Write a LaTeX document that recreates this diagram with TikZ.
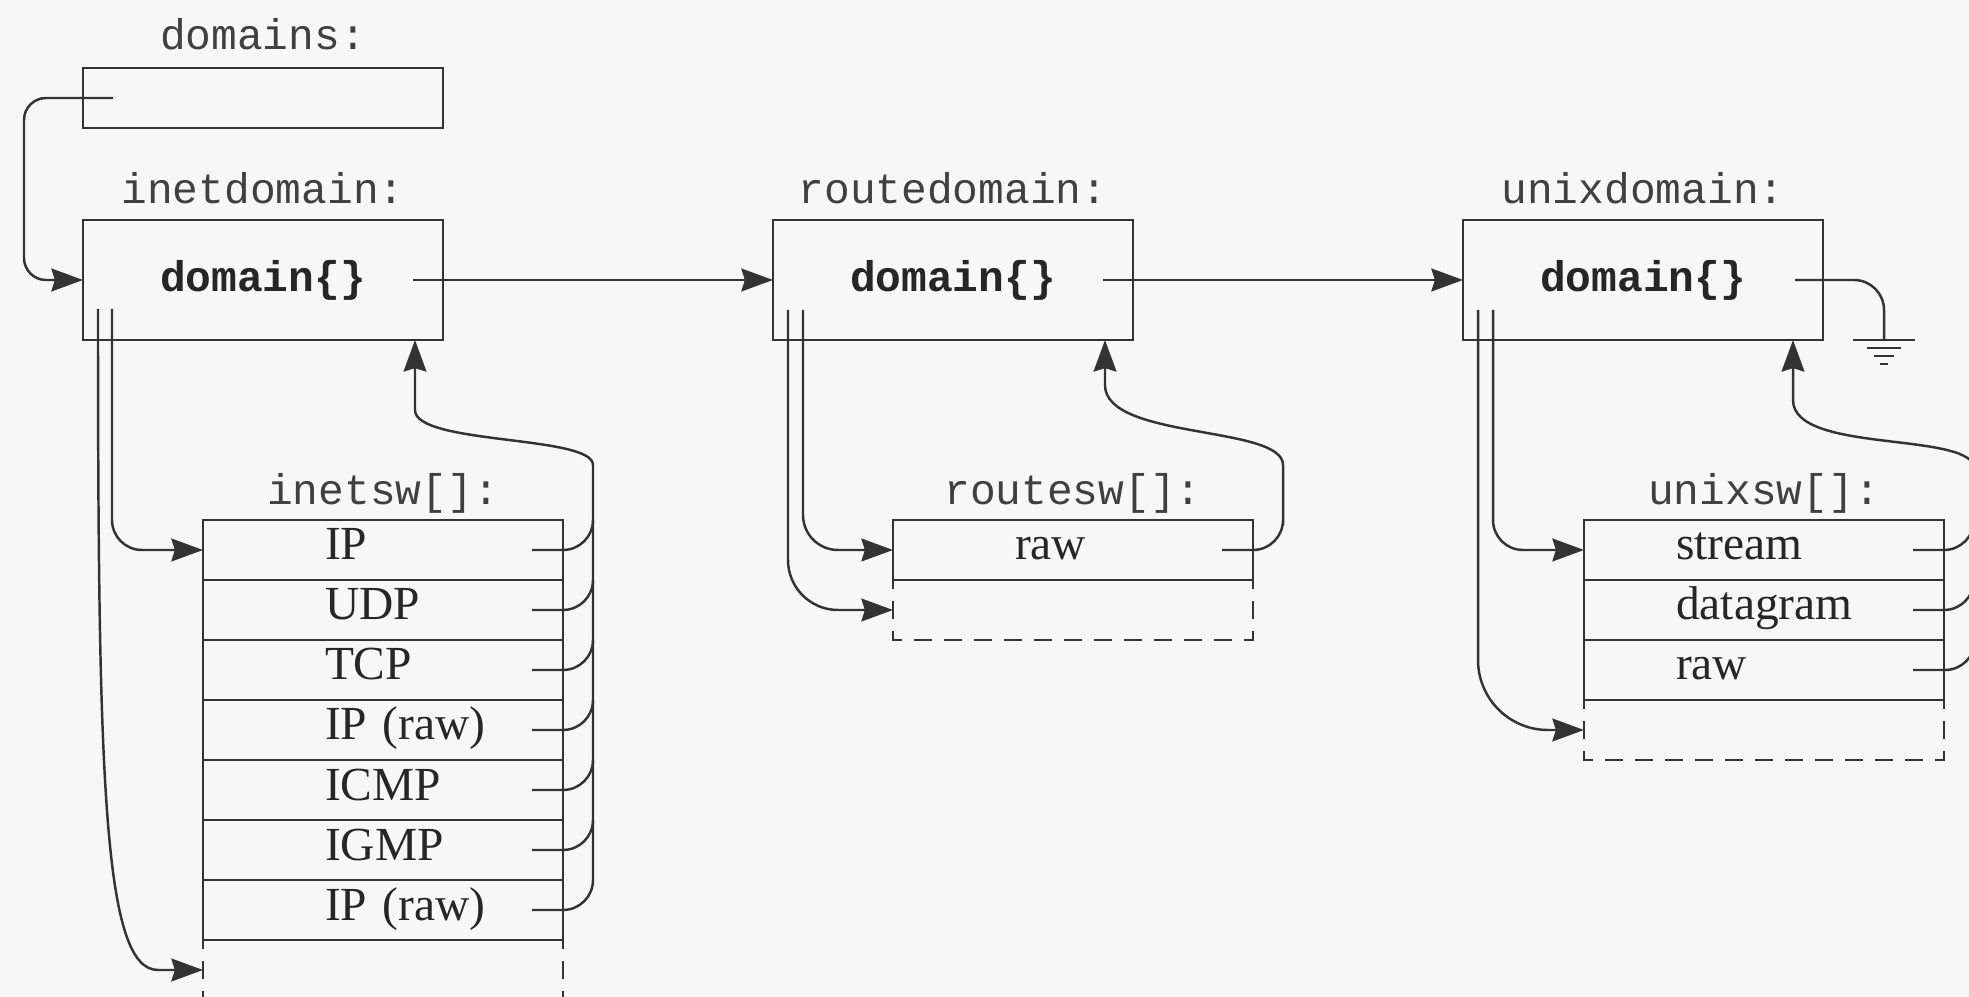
\documentclass[tikz,border=0pt]{standalone}
\usepackage{fontspec}
\setmainfont{Liberation Serif}
\setmonofont{Liberation Mono}
\usetikzlibrary{arrows.meta,positioning}
\newcommand{\lblmono}{\ttfamily\fontsize{12.2}{14}\selectfont}
\newcommand{\rowserif}{\rmfamily\fontsize{13.5}{16}\selectfont}

\begin{document}
\begin{tikzpicture}[
  >={Stealth[length=9pt,width=6.5pt,inset=1pt]},
  ink/.style={draw=black!80},
  ptrbox/.style={
    ink,
    line width=0.8pt,
    minimum width=3.6cm,
    minimum height=0.6cm,
    inner sep=0pt,
    outer sep=0pt
  },
  dombox/.style={ptrbox, minimum height=1.2cm, font=\lblmono\bfseries, text=black!85},
  lbl/.style={font=\lblmono, text=black!75, anchor=base, inner sep=0pt},
  swrow/.style={
    ink,
    line width=0.8pt,
    text width=3.6cm,
    minimum height=0.6cm,
    text height=0.31cm,
    text depth=0.11cm,
    inner sep=0pt,
    outer sep=0pt,
    align=left,
    font=\rowserif,
    text=black!85,
    execute at begin node={\hspace*{#1}}
  },
  swrow/.default=1.22cm,
  slot/.style={minimum width=3.6cm, minimum height=0.6cm, inner sep=0pt, outer sep=0pt},
  slotedge/.style={ink, line width=0.8pt, dash pattern=on 0.18cm off 0.12cm, dash phase=0.09cm},
  wire/.style={ink, line width=0.7pt},
  arr/.style={wire, ->},
]

\path[use as bounding box, clip] (0,0) rectangle (19.69,-9.97);
\fill[black!3] (0,0) rectangle (19.69,-9.97);

% Domain list.
\node[ptrbox] (domains) at (2.63,-0.98) {};
\node[dombox] (inetdomain) at (2.63,-2.80) {domain\{\}};
\node[dombox] (routedomain) at (9.53,-2.80) {domain\{\}};
\node[dombox] (unixdomain) at (16.43,-2.80) {domain\{\}};

\node[lbl] (domainslbl) at ([yshift=0.18cm]domains.north) {domains:};
\node[lbl] (inetlbl) at ([yshift=0.16cm]inetdomain.north) {inetdomain:};
\node[lbl] (routelbl) at ([yshift=0.16cm]routedomain.north) {routedomain:};
\node[lbl] (unixlbl) at ([yshift=0.16cm]unixdomain.north) {unixdomain:};

% Protocol switch tables.
\node[swrow] (inetsw1) at (3.83,-5.50) {IP};
\node[swrow, below=0pt of inetsw1] (inetsw2) {UDP};
\node[swrow, below=0pt of inetsw2] (inetsw3) {TCP};
\node[swrow, below=0pt of inetsw3] (inetsw4) {IP (raw)};
\node[swrow, below=0pt of inetsw4] (inetsw5) {ICMP};
\node[swrow, below=0pt of inetsw5] (inetsw6) {IGMP};
\node[swrow, below=0pt of inetsw6] (inetsw7) {IP (raw)};
\node[slot, below=0pt of inetsw7] (inetslot) {};

\node[swrow] (routesw1) at (10.73,-5.50) {raw};
\node[slot, below=0pt of routesw1] (routeslot) {};

\node[swrow=0.92cm] (unixsw1) at (17.64,-5.50) {stream};
\node[swrow=0.92cm, below=0pt of unixsw1] (unixsw2) {datagram};
\node[swrow=0.92cm, below=0pt of unixsw2] (unixsw3) {raw};
\node[slot, below=0pt of unixsw3] (unixslot) {};

\node[lbl] (inetswlbl) at ([yshift=0.15cm]inetsw1.north) {inetsw[]:};
\node[lbl] (routeswlbl) at ([yshift=0.15cm]routesw1.north) {routesw[]:};
\node[lbl] (unixswlbl) at ([yshift=0.15cm]unixsw1.north) {unixsw[]:};

\draw[slotedge] (inetslot.north west) -- (inetslot.south west) -- (inetslot.south east) -- (inetslot.north east);
\draw[slotedge] (routeslot.north west) -- (routeslot.south west) -- (routeslot.south east) -- (routeslot.north east);
\draw[slotedge] (unixslot.north west) -- (unixslot.south west) -- (unixslot.south east) -- (unixslot.north east);

% Chain of domains.
\draw[arr, rounded corners=0.22cm] ([xshift=0.3cm]domains.west) -| ([xshift=-0.59cm]inetdomain.west) -- (inetdomain.west);
\draw[arr] ([xshift=-0.3cm]inetdomain.east) -- (routedomain.west);
\draw[arr] ([xshift=-0.3cm]routedomain.east) -- (unixdomain.west);

\coordinate (gnd) at (18.84,-3.40);
\draw[wire, rounded corners=0.3cm] ([xshift=-0.28cm]unixdomain.east) -| (gnd);
\draw[wire] ([xshift=-0.31cm]gnd) -- ([xshift=0.31cm]gnd);
\draw[wire] ([xshift=-0.17cm,yshift=-0.08cm]gnd) -- ([xshift=0.17cm,yshift=-0.08cm]gnd);
\draw[wire] ([xshift=-0.10cm,yshift=-0.16cm]gnd) -- ([xshift=0.10cm,yshift=-0.16cm]gnd);
\draw[wire] ([xshift=-0.04cm,yshift=-0.24cm]gnd) -- ([xshift=0.04cm,yshift=-0.24cm]gnd);

% Domain to first and end of its switch table.
\draw[arr, rounded corners=0.3cm] ([xshift=0.29cm,yshift=0.31cm]inetdomain.south west) |- (inetsw1.west);
\draw[arr] ([xshift=0.15cm,yshift=0.31cm]inetdomain.south west)
  .. controls +(0,-4.7) and +(-0.55,0) .. ([xshift=-0.45cm]inetslot.west) -- (inetslot.west);

\draw[arr, rounded corners=0.35cm] ([xshift=0.30cm,yshift=0.30cm]routedomain.south west) |- (routesw1.west);
\draw[arr, rounded corners=0.5cm] ([xshift=0.15cm,yshift=0.30cm]routedomain.south west) |- (routeslot.west);

\draw[arr, rounded corners=0.3cm] ([xshift=0.30cm,yshift=0.30cm]unixdomain.south west) |- (unixsw1.west);
\draw[arr, rounded corners=0.7cm] ([xshift=0.15cm,yshift=0.30cm]unixdomain.south west) |- (unixslot.west);

% Back pointers from each entry to its domain.
\coordinate (inetbus) at (5.93,-4.95);
\draw[wire, rounded corners=0.3cm] ([xshift=-0.31cm]inetsw1.east) -| ([xshift=0.3cm,yshift=0.3cm]inetsw1.east);
\draw[wire, rounded corners=0.3cm] ([xshift=-0.31cm]inetsw2.east) -| ([xshift=0.3cm,yshift=0.3cm]inetsw2.east);
\draw[wire, rounded corners=0.3cm] ([xshift=-0.31cm]inetsw3.east) -| ([xshift=0.3cm,yshift=0.3cm]inetsw3.east);
\draw[wire, rounded corners=0.3cm] ([xshift=-0.31cm]inetsw4.east) -| ([xshift=0.3cm,yshift=0.3cm]inetsw4.east);
\draw[wire, rounded corners=0.3cm] ([xshift=-0.31cm]inetsw5.east) -| ([xshift=0.3cm,yshift=0.3cm]inetsw5.east);
\draw[wire, rounded corners=0.3cm] ([xshift=-0.31cm]inetsw6.east) -| ([xshift=0.3cm,yshift=0.3cm]inetsw6.east);
\draw[arr] ([xshift=-0.31cm]inetsw7.east) [rounded corners=0.3cm] -| (inetbus) [sharp corners]
  .. controls +(0,0.6) and +(0,-0.35) .. ([xshift=-0.28cm,yshift=-0.7cm]inetdomain.south east)
  -- ([xshift=-0.28cm]inetdomain.south east);

\coordinate (routebus) at (12.83,-4.95);
\draw[arr] ([xshift=-0.31cm]routesw1.east) [rounded corners=0.3cm] -| (routebus) [sharp corners]
  .. controls +(0,0.7) and +(0,-0.55) .. ([xshift=-0.28cm,yshift=-0.45cm]routedomain.south east)
  -- ([xshift=-0.28cm]routedomain.south east);

\coordinate (unixbus) at (19.75,-5.00);
\draw[wire, rounded corners=0.3cm] ([xshift=-0.31cm]unixsw1.east) -| ([xshift=0.3cm,yshift=0.3cm]unixsw1.east);
\draw[wire, rounded corners=0.3cm] ([xshift=-0.31cm]unixsw2.east) -| ([xshift=0.3cm,yshift=0.3cm]unixsw2.east);
\draw[arr] ([xshift=-0.31cm]unixsw3.east) [rounded corners=0.3cm] -| (unixbus) [sharp corners]
  .. controls +(0,0.7) and +(0,-0.55) .. ([xshift=-0.30cm,yshift=-0.6cm]unixdomain.south east)
  -- ([xshift=-0.30cm]unixdomain.south east);

\end{tikzpicture}
\end{document}
